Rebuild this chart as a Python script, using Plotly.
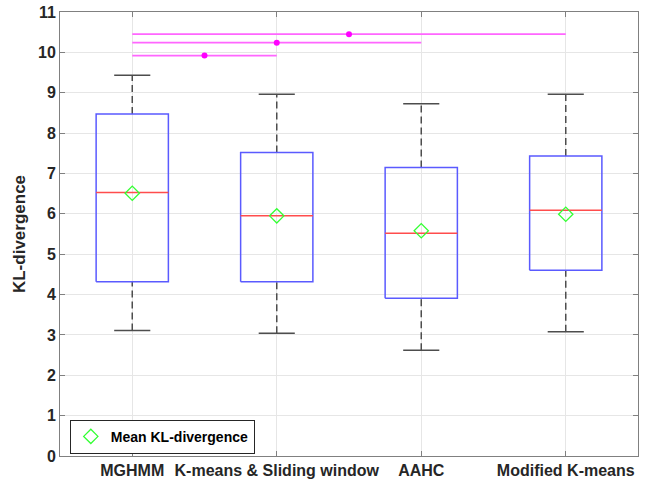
import plotly.graph_objects as go

categories = ["MGHMM", "K-means & Sliding window", "AAHC", "Modified K-means"]
positions = [1, 2, 3, 4]
lower_whisker = [3.11, 3.04, 2.62, 3.08]
q1 = [4.32, 4.32, 3.91, 4.60]
median = [6.53, 5.95, 5.52, 6.09]
q3 = [8.47, 7.52, 7.15, 7.43]
upper_whisker = [9.43, 8.96, 8.73, 8.96]
means = [6.51, 5.95, 5.58, 5.99]

sig_from = [1, 1, 1]
sig_to = [2, 3, 4]
sig_y = [9.92, 10.24, 10.45]

y_ticks = list(range(0, 12))

BOX_HALF = 0.25
CAP_HALF = 0.125
FONT = "Liberation Sans, Arial, sans-serif"
TXT = "#262626"

fig = go.Figure()

# whiskers (dashed)
wx, wy = [], []
for p, lo, a, b, hi in zip(positions, lower_whisker, q1, q3, upper_whisker):
    wx += [p, p, None, p, p, None]
    wy += [b, hi, None, lo, a, None]
fig.add_trace(go.Scatter(x=wx, y=wy, mode="lines", showlegend=False, hoverinfo="skip",
                         line=dict(color="#4d4d4d", width=1.5, dash="7px,4px")))

# caps
cx, cy = [], []
for p, lo, hi in zip(positions, lower_whisker, upper_whisker):
    cx += [p - CAP_HALF, p + CAP_HALF, None, p - CAP_HALF, p + CAP_HALF, None]
    cy += [hi, hi, None, lo, lo, None]
fig.add_trace(go.Scatter(x=cx, y=cy, mode="lines", showlegend=False, hoverinfo="skip",
                         line=dict(color="#4d4d4d", width=1.5)))

# boxes
bx, by = [], []
for p, a, b in zip(positions, q1, q3):
    bx += [p - BOX_HALF, p + BOX_HALF, p + BOX_HALF, p - BOX_HALF, p - BOX_HALF, None]
    by += [a, a, b, b, a, None]
fig.add_trace(go.Scatter(x=bx, y=by, mode="lines", showlegend=False, hoverinfo="skip",
                         line=dict(color="#5a5aff", width=1.5)))

# medians
mx, my = [], []
for p, m in zip(positions, median):
    mx += [p - BOX_HALF, p + BOX_HALF, None]
    my += [m, m, None]
fig.add_trace(go.Scatter(x=mx, y=my, mode="lines", showlegend=False, hoverinfo="skip",
                         line=dict(color="#ff4d4d", width=1.5)))

# significance lines
for f, t, y in zip(sig_from, sig_to, sig_y):
    fig.add_trace(go.Scatter(x=[f, t], y=[y, y], mode="lines", showlegend=False,
                             hoverinfo="skip", line=dict(color="#ff66ff", width=1.8)))
    fig.add_trace(go.Scatter(x=[(f + t) / 2], y=[y], mode="markers", showlegend=False,
                             hoverinfo="skip",
                             marker=dict(color="#ff00ff", size=6, symbol="circle")))

# means
fig.add_trace(go.Scatter(x=positions, y=means, mode="markers", name="Mean KL-divergence",
                         marker=dict(symbol="diamond-open", size=11, color="#33ff33",
                                     line=dict(width=1.3, color="#33ff33"))))

axis_common = dict(showline=True, linecolor="#808080", linewidth=1, mirror="ticks",
                   ticks="inside", ticklen=5, tickcolor="#808080", automargin=False,
                   showgrid=True, gridcolor="#e6e6e6", gridwidth=1, zeroline=False,
                   tickfont=dict(family=FONT, size=16, color=TXT, weight="bold"))

fig.update_xaxes(range=[0.5, 4.5], tickvals=positions, ticktext=categories, **axis_common)
fig.update_yaxes(range=[0, 11], tickvals=y_ticks, **axis_common,
                 title=dict(text="KL-divergence", standoff=8,
                            font=dict(family=FONT, size=17, color=TXT, weight="bold")))

fig.update_layout(
    width=654, height=485,
    margin=dict(l=60, r=16, t=12, b=29),
    plot_bgcolor="white", paper_bgcolor="white",
    showlegend=True,
    legend=dict(x=0.017, y=0.005, xanchor="left", yanchor="bottom",
                bgcolor="white", bordercolor="#262626", borderwidth=1,
                font=dict(family=FONT, size=14, color="black", weight="bold"),
                itemwidth=30, tracegroupgap=0),
    font=dict(family=FONT),
)

fig.write_html("out.html")
